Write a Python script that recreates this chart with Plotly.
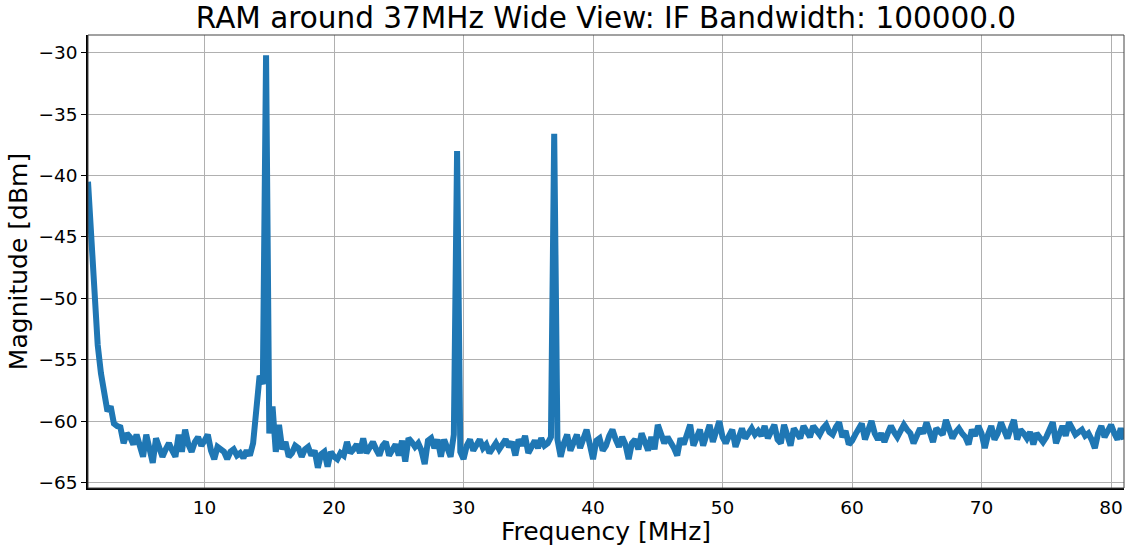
import numpy as np
import plotly.graph_objects as go

# Frequency sweep grid (MHz), 0.25 MHz steps from 1 to 81
freq_start = 1.0
freq_step = 0.25

mag_01_10 = [-40.5, -45.6, -51.0, -53.8, -56.1, -57.4, -59.2, -58.8, -60.2, -60.4,
             -60.5, -61.8, -61.0, -61.3, -61.9, -61.1, -62.0, -62.9, -61.1, -62.4,
             -63.4, -61.4, -62.2, -62.9, -62.3, -61.8, -62.4, -62.9, -61.1, -62.5,
             -60.7, -61.9, -62.5, -61.7, -61.3, -62.0, -61.6, -61.1, -62.4, -63.1]
mag_11_20 = [-62.1, -62.3, -62.5, -63.1, -62.5, -62.3, -62.8, -62.6, -63.0, -62.4,
             -62.8, -61.8, -59.3, -56.3, -57.0, -30.2, -61.0, -58.8, -62.5, -60.3,
             -62.3, -61.7, -62.9, -62.6, -62.0, -62.2, -62.9, -62.3, -62.1, -62.8,
             -62.4, -63.8, -62.7, -62.5, -63.7, -62.5, -62.9, -63.1, -62.6, -62.8]
mag_21_30 = [-61.7, -62.6, -62.3, -61.9, -62.6, -61.4, -62.6, -62.0, -61.7, -62.3,
             -62.8, -62.0, -61.7, -62.8, -62.2, -61.9, -62.8, -61.6, -63.3, -61.4,
             -61.7, -62.1, -61.8, -62.4, -63.5, -61.6, -61.4, -62.2, -61.5, -62.9,
             -61.5, -62.4, -62.9, -61.1, -38.0, -62.5, -63.1, -62.0, -61.5, -62.4]
mag_31_40 = [-61.9, -61.5, -62.2, -61.9, -62.6, -62.1, -61.8, -62.3, -61.9, -61.5,
             -62.1, -61.7, -62.8, -61.5, -62.0, -61.2, -62.6, -62.0, -61.6, -62.2,
             -61.4, -62.0, -61.8, -61.3, -36.6, -61.5, -62.9, -61.8, -61.1, -62.4,
             -61.6, -61.1, -62.2, -61.5, -60.7, -61.9, -63.1, -61.6, -61.4, -62.4]
mag_41_50 = [-62.0, -61.2, -60.7, -61.5, -62.1, -61.3, -61.9, -63.1, -61.8, -61.5,
             -62.3, -61.0, -61.6, -62.4, -61.3, -62.3, -60.3, -61.2, -61.8, -61.3,
             -61.7, -62.2, -62.8, -61.4, -61.9, -61.0, -60.3, -62.0, -61.2, -60.7,
             -62.0, -61.0, -60.3, -61.7, -60.6, -60.0, -61.3, -61.8, -61.2, -60.7]
mag_51_60 = [-62.1, -61.2, -60.6, -61.4, -60.9, -60.6, -61.1, -60.8, -61.2, -60.4,
             -61.4, -60.9, -60.3, -61.5, -61.8, -60.3, -61.2, -62.0, -60.6, -61.0,
             -61.4, -60.4, -60.9, -61.3, -60.4, -60.8, -61.1, -60.6, -60.3, -60.9,
             -61.1, -60.5, -60.1, -61.3, -60.8, -61.9, -61.6, -61.1, -60.7, -60.2]
mag_61_70 = [-61.5, -60.8, -60.0, -61.0, -61.5, -61.0, -61.7, -61.0, -60.4, -60.9,
             -61.3, -60.8, -60.3, -60.7, -61.0, -61.8, -61.2, -60.6, -61.0, -60.1,
             -60.9, -61.7, -60.6, -60.9, -61.1, -59.9, -60.6, -61.4, -60.9, -60.6,
             -61.0, -61.3, -61.9, -60.7, -61.2, -60.4, -61.0, -62.2, -61.1, -60.4]
mag_71_81 = [-61.5, -61.0, -60.1, -60.8, -61.4, -60.6, -59.9, -61.5, -60.7, -61.0,
             -61.4, -60.9, -61.9, -61.0, -61.4, -61.7, -61.3, -60.8, -60.1, -61.8,
             -60.9, -60.4, -61.2, -60.1, -60.6, -61.1, -60.9, -60.7, -61.2, -61.0,
             -61.5, -62.2, -61.0, -60.4, -61.3, -60.8, -60.3, -61.0, -61.5, -60.6,
             -61.5]

x_tick_vals = [10, 20, 30, 40, 50, 60, 70, 80]
y_tick_vals = [-30, -35, -40, -45, -50, -55, -60, -65]
y_tick_text = ["\u221230", "\u221235", "\u221240", "\u221245", "\u221250", "\u221255", "\u221260", "\u221265"]

magnitude = (mag_01_10 + mag_11_20 + mag_21_30 + mag_31_40 +
             mag_41_50 + mag_51_60 + mag_61_70 + mag_71_81)
freq = freq_start + freq_step * np.arange(len(magnitude))

FONT = "DejaVu Sans"

fig = go.Figure()
fig.add_trace(go.Scatter(x=freq, y=magnitude, mode="lines",
                         line=dict(color="#1f77b4", width=6),
                         showlegend=False, hoverinfo="skip"))

fig.update_layout(
    width=1128, height=546,
    margin=dict(l=88, r=4, t=35, b=58, autoexpand=False),
    paper_bgcolor="white", plot_bgcolor="white",
    font=dict(family=FONT, color="black"),
    title=dict(text="RAM around 37MHz Wide View: IF Bandwidth: 100000.0",
               font=dict(family=FONT, size=29.5, color="black"),
               x=0.5, xanchor="center", y=1 - 18/546, yanchor="middle",
               xref="paper", yref="container", automargin=False),
    shapes=[dict(type="rect", xref="paper", yref="paper", x0=0, x1=1, y0=0, y1=1,
                 line=dict(color="#444444", width=1), layer="above")],
)

fig.update_xaxes(range=[1, 81], tickvals=x_tick_vals, ticks="",
                 ticklabelstandoff=2, automargin=False,
                 tickfont=dict(family=FONT, size=18.5, color="black"),
                 showgrid=True, gridcolor="#b0b0b0", gridwidth=1,
                 zeroline=False, showline=True, linecolor="black", linewidth=1.5,
                 title=dict(text="Frequency [MHz]", standoff=2,
                            font=dict(family=FONT, size=25, color="black")))
fig.update_yaxes(range=[-65.45, -28.55], tickvals=y_tick_vals, ticktext=y_tick_text,
                 ticks="outside", ticklen=5, tickcolor="black", tickwidth=1,
                 automargin=False,
                 tickfont=dict(family=FONT, size=18.5, color="black"),
                 showgrid=True, gridcolor="#b0b0b0", gridwidth=1,
                 zeroline=False, showline=True, linecolor="black", linewidth=1.5,
                 title=dict(text="Magnitude [dBm]", standoff=4,
                            font=dict(family=FONT, size=25, color="black")))

fig.write_html("out.html", config={"displayModeBar": False},
               post_script="document.body.style.margin='0';document.body.style.padding='0';")
